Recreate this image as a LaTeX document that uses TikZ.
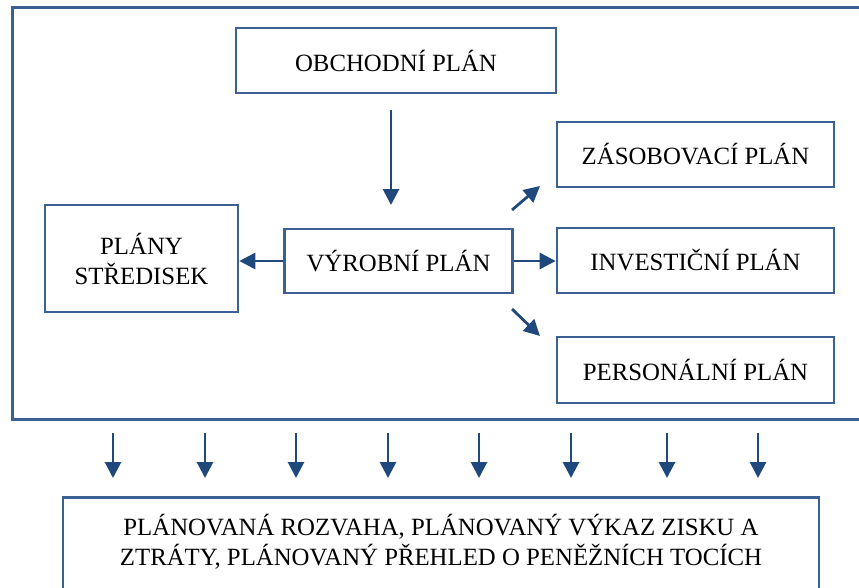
\documentclass[tikz,border=0pt]{standalone}
\usepackage{fontspec}
\setmainfont{Liberation Serif}
\usetikzlibrary{arrows.meta}
\definecolor{boxblue}{HTML}{3B6094}
\definecolor{arrblue}{HTML}{1F497D}
\begin{document}
\begin{tikzpicture}[x=1pt,y=-1pt,
  planbox/.style={draw=boxblue,line width=2.6pt,inner sep=0pt,align=center,
    font=\fontsize{24.8}{30}\selectfont,text=black},
  arr/.style={draw=arrblue,line width=2.8pt,-{Triangle[length=16pt,width=16pt]}}]
\useasboundingbox (0,0) rectangle (859,587);
\clip (0,0) rectangle (859,587);
\fill[white] (0,0) rectangle (859,587);
% outer frame
\draw[draw=boxblue,line width=3pt] (12,7) rectangle (900,419);
% boxes
\node[planbox,minimum width=320pt,minimum height=65pt] (obch) at (396,60.5) {OBCHODNÍ PLÁN};
\node[planbox,minimum width=193pt,minimum height=107pt] (stred) at (141.5,258.5) {PLÁNY\\STŘEDISEK};
\node[planbox,minimum width=228pt,minimum height=64pt] (vyr) at (398.5,261) {VÝROBNÍ PLÁN};
\node[planbox,minimum width=277pt,minimum height=65pt] (zas) at (695.5,154.5) {ZÁSOBOVACÍ PLÁN};
\node[planbox,minimum width=277pt,minimum height=65pt] (inv) at (695.5,260.5) {INVESTIČNÍ PLÁN};
\node[planbox,minimum width=277pt,minimum height=66pt] (pers) at (695.5,370) {PERSONÁLNÍ PLÁN};
\node[planbox,minimum width=756pt,minimum height=140pt,anchor=north] (vys) at (441,496) {};
\node[font=\fontsize{24.8}{30}\selectfont,align=center,inner sep=0pt] (vystext) at (441,542)
  {PLÁNOVANÁ ROZVAHA, PLÁNOVANÝ VÝKAZ ZISKU A\\ZTRÁTY, PLÁNOVANÝ PŘEHLED O PENĚŽNÍCH TOCÍCH};
% arrows
\coordinate (a1) at (391,110);
\coordinate (a2) at (391,205);
\draw[arr] (a1) -- (a2);
\draw[arr] (vyr.west) -- (vyr.west -| stred.east);
\draw[arr] (vyr.east) -- (vyr.east -| inv.west);
\coordinate (d1s) at (512,210);
\coordinate (d1e) at (540,186);
\draw[arr] (d1s) -- (d1e);
\coordinate (d2s) at (512,309);
\coordinate (d2e) at (540,336);
\draw[arr] (d2s) -- (d2e);
\foreach \i/\x in {1/113,2/205,3/296,4/388,5/479,6/571,7/667,8/758}{
  \coordinate (b\i s) at (\x,433);
  \coordinate (b\i e) at (\x,478);
  \draw[arr] (b\i s) -- (b\i e);
}
\end{tikzpicture}
\end{document}
